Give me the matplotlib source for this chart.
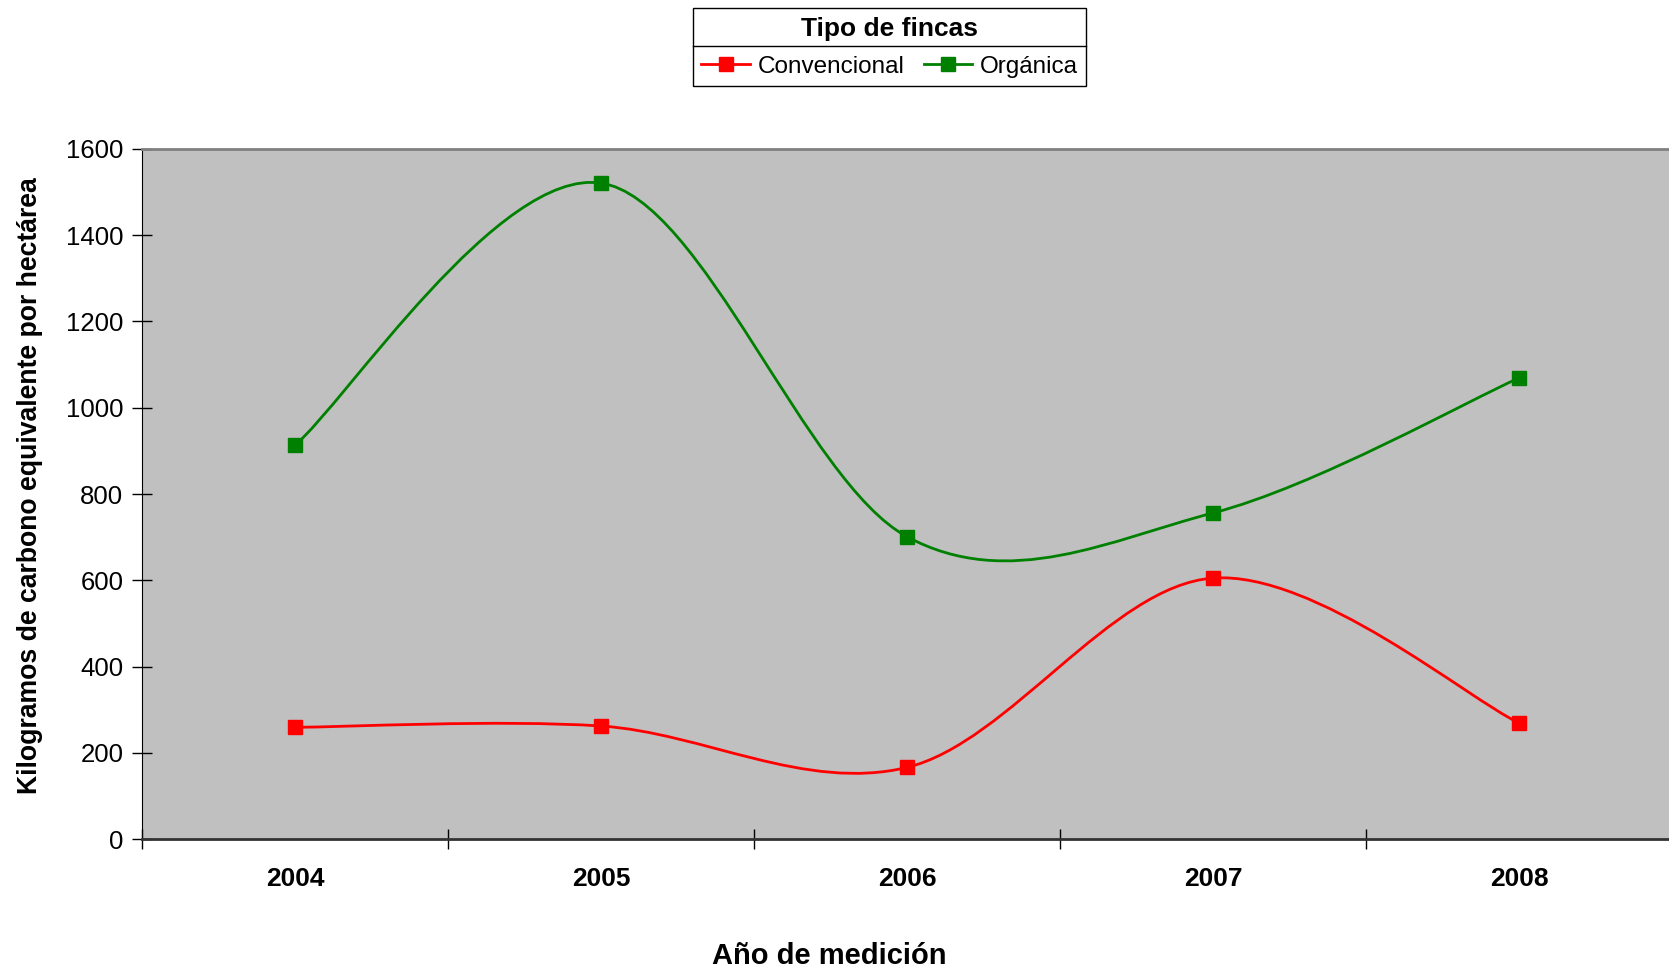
import matplotlib
matplotlib.use("Agg")
import matplotlib.pyplot as plt
from matplotlib.path import Path
from matplotlib.patches import PathPatch
from matplotlib.lines import Line2D

years = ["2004", "2005", "2006", "2007", "2008"]
convencional = [259, 262, 166, 605, 269]
organica = [913, 1521, 701, 756, 1069]
y_ticks = [0, 200, 400, 600, 800, 1000, 1200, 1400, 1600]

plt.rcParams["font.family"] = ["Liberation Sans", "DejaVu Sans"]

W, H = 1669, 972
fig = plt.figure(figsize=(W / 100, H / 100), dpi=100)
ax = fig.add_axes([142 / W, (H - 839) / H, 1530 / W, 690 / H])
ax.set_facecolor("#C0C0C0")


def smooth_path(xs, ys):
    """Cardinal (Catmull-Rom) Bezier path through the points, like a smoothed line chart."""
    n = len(xs)
    verts = [(xs[0], ys[0])]
    codes = [Path.MOVETO]
    for i in range(n - 1):
        x0, y0 = (xs[i - 1], ys[i - 1]) if i > 0 else (xs[i], ys[i])
        x1, y1 = xs[i], ys[i]
        x2, y2 = xs[i + 1], ys[i + 1]
        x3, y3 = (xs[i + 2], ys[i + 2]) if i + 2 < n else (x2, y2)
        c1 = (x1 + (x2 - x0) / 6, y1 + (y2 - y0) / 6)
        c2 = (x2 - (x3 - x1) / 6, y2 - (y3 - y1) / 6)
        verts += [c1, c2, (x2, y2)]
        codes += [Path.CURVE4] * 3
    return Path(verts, codes)


xs = list(range(len(years)))
series = [("Convencional", convencional, "#FF0000"), ("Orgánica", organica, "#008000")]
handles = []
for name, vals, col in series:
    ax.add_patch(PathPatch(smooth_path(xs, vals), facecolor="none", edgecolor=col,
                           lw=2.0, zorder=3))
    ax.plot(xs, vals, linestyle="none", marker="s", markersize=10.5, color=col, zorder=4)
    handles.append(Line2D([], [], color=col, lw=2.0, marker="s", markersize=10.5, label=name))

ax.set_xlim(-0.5, len(years) - 0.5)
ax.set_ylim(0, 1600)
ax.set_yticks(y_ticks)
ax.set_yticklabels([str(v) for v in y_ticks], fontsize=18.5)
ax.set_xticks(xs)
ax.set_xticklabels(years, fontsize=19, fontweight="bold")
ax.set_xticks([i + 0.5 for i in range(-1, len(years))], minor=True)
ax.tick_params(axis="x", which="major", length=0, pad=20)
ax.tick_params(axis="x", which="minor", direction="inout", length=15, width=1, color="black")
ax.tick_params(axis="y", direction="inout", length=15, width=1, pad=6, color="black")

ax.spines["top"].set_color("#808080")
ax.spines["top"].set_linewidth(2)
ax.spines["right"].set_visible(False)
ax.spines["left"].set_color("black")
ax.spines["bottom"].set_color("#333333")
ax.spines["bottom"].set_linewidth(2)

fig.text(30 / W, 1 - 486 / H, "Kilogramos de carbono equivalente por hectárea",
         rotation=90, ha="center", va="center", fontsize=19.2, fontweight="bold")
fig.text(829 / W, 1 - 956 / H, "Año de medición", ha="center", va="center",
         fontsize=21, fontweight="bold")

leg = fig.legend(handles=handles, loc="upper center", bbox_to_anchor=(889.5 / W, 1 - 8.5 / H),
                 ncol=2, title="Tipo de fincas", fontsize=17.5, fancybox=False,
                 edgecolor="black", framealpha=1, handlelength=2.0, handletextpad=0.3,
                 columnspacing=0.8, borderpad=0.35, labelspacing=0.6, borderaxespad=0)
leg.get_title().set_fontweight("bold")
leg.get_title().set_fontsize(19)
leg.get_frame().set_linewidth(1)

fig.canvas.draw()
bb = leg.get_window_extent()
fig.add_artist(Line2D([bb.x0 / W, bb.x1 / W], [1 - 46 / H, 1 - 46 / H],
                      transform=fig.transFigure, color="black", lw=1, zorder=10))

fig.savefig("out.png", dpi=100)
